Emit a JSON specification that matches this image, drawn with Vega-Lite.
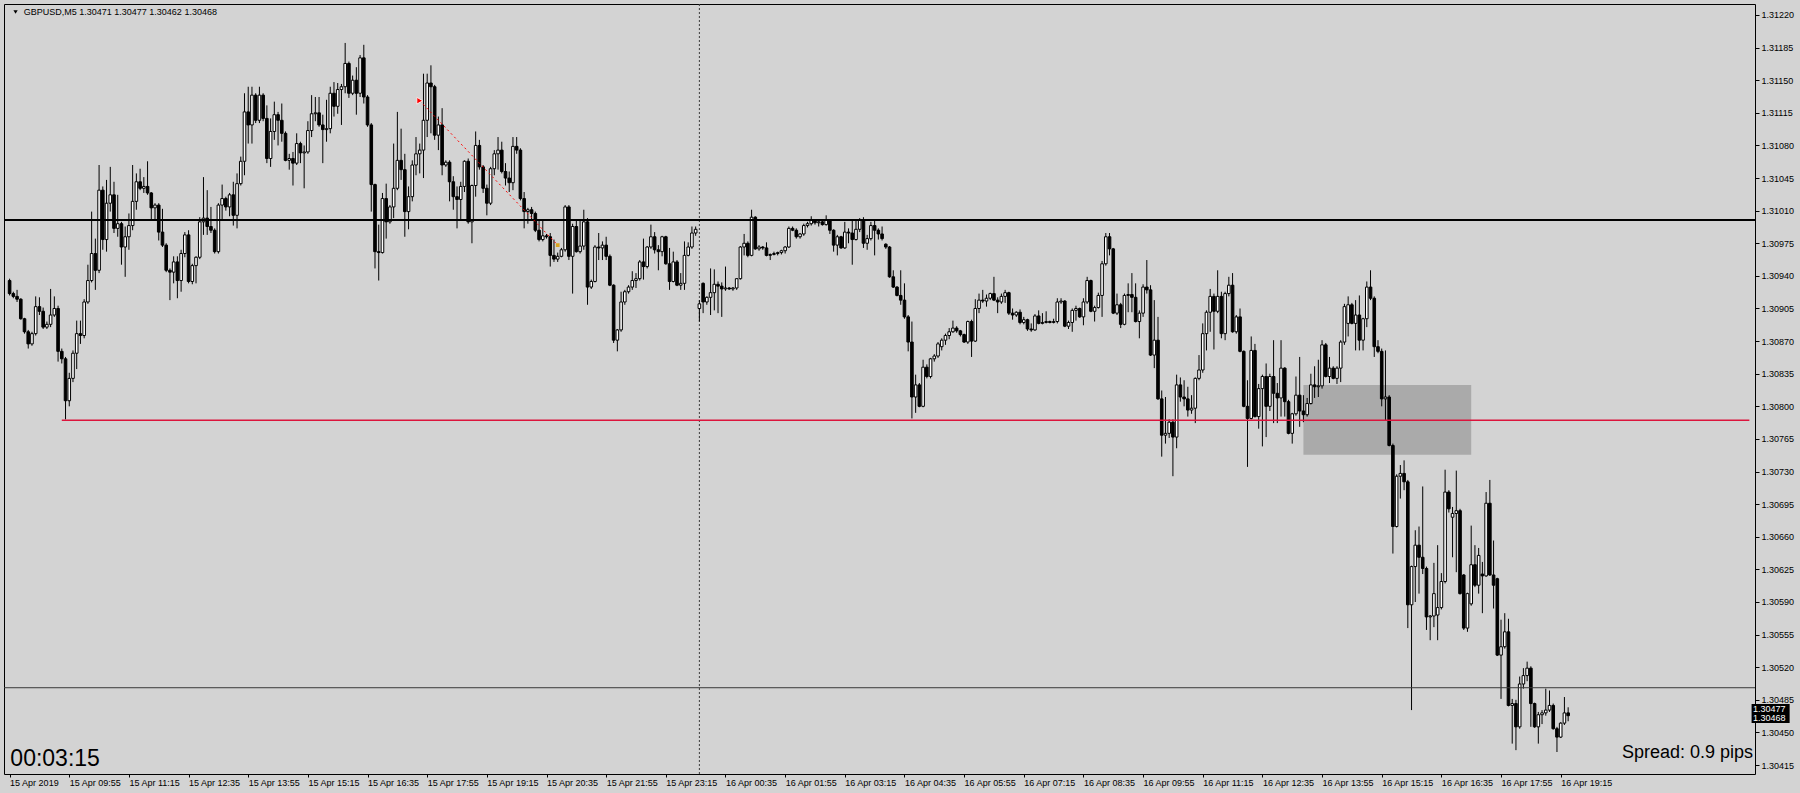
{
"$schema":"https://vega.github.io/schema/vega-lite/v6.json",
"width":1751,"height":770,
"autosize":{"type":"none"},
"padding":{"left":4,"top":4,"right":45,"bottom":19},
"background":"#d3d3d3",
"config":{"view":{"fill":"#d3d3d3","stroke":"#000000","strokeWidth":1},"font":"Liberation Sans"},
"resolve":{"axis":{"x":"independent","y":"independent"}},
"datasets":{"k":[
{"t":"2019-04-15T08:35Z","o":1.30935,"h":1.30937,"l":1.30919,"c":1.30921},
{"t":"2019-04-15T08:40Z","o":1.30921,"h":1.30923,"l":1.30916,"c":1.30918},
{"t":"2019-04-15T08:45Z","o":1.30918,"h":1.30925,"l":1.30912,"c":1.30915},
{"t":"2019-04-15T08:50Z","o":1.30915,"h":1.30916,"l":1.30893,"c":1.30894},
{"t":"2019-04-15T08:55Z","o":1.30894,"h":1.30895,"l":1.30878,"c":1.3088},
{"t":"2019-04-15T09:00Z","o":1.3088,"h":1.30882,"l":1.30862,"c":1.30867},
{"t":"2019-04-15T09:05Z","o":1.30867,"h":1.3088,"l":1.30865,"c":1.30878},
{"t":"2019-04-15T09:10Z","o":1.30878,"h":1.30918,"l":1.30876,"c":1.30907},
{"t":"2019-04-15T09:15Z","o":1.30907,"h":1.30917,"l":1.30898,"c":1.30902},
{"t":"2019-04-15T09:20Z","o":1.30902,"h":1.30906,"l":1.30883,"c":1.30885},
{"t":"2019-04-15T09:25Z","o":1.30885,"h":1.30891,"l":1.30883,"c":1.30888},
{"t":"2019-04-15T09:30Z","o":1.30888,"h":1.30926,"l":1.30885,"c":1.30898},
{"t":"2019-04-15T09:35Z","o":1.30898,"h":1.30918,"l":1.30896,"c":1.30905},
{"t":"2019-04-15T09:40Z","o":1.30905,"h":1.30908,"l":1.30848,"c":1.30859},
{"t":"2019-04-15T09:45Z","o":1.30859,"h":1.30862,"l":1.30846,"c":1.30851},
{"t":"2019-04-15T09:50Z","o":1.30851,"h":1.30853,"l":1.30786,"c":1.30806},
{"t":"2019-04-15T09:55Z","o":1.30806,"h":1.30836,"l":1.308,"c":1.3083},
{"t":"2019-04-15T10:00Z","o":1.3083,"h":1.3086,"l":1.30826,"c":1.30857},
{"t":"2019-04-15T10:05Z","o":1.30857,"h":1.30892,"l":1.3084,"c":1.30878},
{"t":"2019-04-15T10:10Z","o":1.30878,"h":1.30892,"l":1.30867,"c":1.30876},
{"t":"2019-04-15T10:15Z","o":1.30876,"h":1.30915,"l":1.30873,"c":1.30912},
{"t":"2019-04-15T10:20Z","o":1.30912,"h":1.30952,"l":1.3091,"c":1.30935},
{"t":"2019-04-15T10:25Z","o":1.30935,"h":1.31009,"l":1.30933,"c":1.30964},
{"t":"2019-04-15T10:30Z","o":1.30964,"h":1.3098,"l":1.30925,"c":1.30946},
{"t":"2019-04-15T10:35Z","o":1.30946,"h":1.31059,"l":1.30943,"c":1.31032},
{"t":"2019-04-15T10:40Z","o":1.31032,"h":1.31036,"l":1.30968,"c":1.30979},
{"t":"2019-04-15T10:45Z","o":1.30979,"h":1.31043,"l":1.30966,"c":1.31018},
{"t":"2019-04-15T10:50Z","o":1.31018,"h":1.31057,"l":1.31009,"c":1.31027},
{"t":"2019-04-15T10:55Z","o":1.31027,"h":1.31041,"l":1.30986,"c":1.30991},
{"t":"2019-04-15T11:00Z","o":1.30991,"h":1.31027,"l":1.30982,"c":1.30996},
{"t":"2019-04-15T11:05Z","o":1.30996,"h":1.30998,"l":1.30952,"c":1.30971},
{"t":"2019-04-15T11:10Z","o":1.30971,"h":1.30993,"l":1.30939,"c":1.30982},
{"t":"2019-04-15T11:15Z","o":1.30982,"h":1.31007,"l":1.30968,"c":1.30994},
{"t":"2019-04-15T11:20Z","o":1.30994,"h":1.31059,"l":1.30989,"c":1.3102},
{"t":"2019-04-15T11:25Z","o":1.3102,"h":1.3105,"l":1.31011,"c":1.31041},
{"t":"2019-04-15T11:30Z","o":1.31041,"h":1.31055,"l":1.31032,"c":1.31034},
{"t":"2019-04-15T11:35Z","o":1.31034,"h":1.31046,"l":1.31029,"c":1.31036},
{"t":"2019-04-15T11:40Z","o":1.31036,"h":1.31063,"l":1.31027,"c":1.31029},
{"t":"2019-04-15T11:45Z","o":1.31029,"h":1.3103,"l":1.31,"c":1.31013},
{"t":"2019-04-15T11:50Z","o":1.31013,"h":1.31018,"l":1.31,"c":1.31016},
{"t":"2019-04-15T11:55Z","o":1.31016,"h":1.31018,"l":1.30978,"c":1.30987},
{"t":"2019-04-15T12:00Z","o":1.30987,"h":1.31012,"l":1.30971,"c":1.30973},
{"t":"2019-04-15T12:05Z","o":1.30973,"h":1.30975,"l":1.30944,"c":1.30946},
{"t":"2019-04-15T12:10Z","o":1.30946,"h":1.30948,"l":1.30914,"c":1.30944},
{"t":"2019-04-15T12:15Z","o":1.30944,"h":1.30961,"l":1.30932,"c":1.30955},
{"t":"2019-04-15T12:20Z","o":1.30955,"h":1.30961,"l":1.30916,"c":1.30935},
{"t":"2019-04-15T12:25Z","o":1.30935,"h":1.30968,"l":1.30923,"c":1.30964},
{"t":"2019-04-15T12:30Z","o":1.30964,"h":1.30987,"l":1.3096,"c":1.30984},
{"t":"2019-04-15T12:35Z","o":1.30984,"h":1.30989,"l":1.30932,"c":1.30934},
{"t":"2019-04-15T12:40Z","o":1.30934,"h":1.30953,"l":1.30931,"c":1.30951},
{"t":"2019-04-15T12:45Z","o":1.30951,"h":1.30961,"l":1.30932,"c":1.3096},
{"t":"2019-04-15T12:50Z","o":1.3096,"h":1.31003,"l":1.30958,"c":1.30998},
{"t":"2019-04-15T12:55Z","o":1.30998,"h":1.31046,"l":1.30984,"c":1.31002},
{"t":"2019-04-15T13:00Z","o":1.31002,"h":1.31032,"l":1.30984,"c":1.30993},
{"t":"2019-04-15T13:05Z","o":1.30993,"h":1.31014,"l":1.30986,"c":1.30989},
{"t":"2019-04-15T13:10Z","o":1.30989,"h":1.30991,"l":1.30964,"c":1.30966},
{"t":"2019-04-15T13:15Z","o":1.30966,"h":1.31018,"l":1.30964,"c":1.31016},
{"t":"2019-04-15T13:20Z","o":1.31016,"h":1.31038,"l":1.31,"c":1.31023},
{"t":"2019-04-15T13:25Z","o":1.31023,"h":1.31025,"l":1.3101,"c":1.31014},
{"t":"2019-04-15T13:30Z","o":1.31014,"h":1.31029,"l":1.31004,"c":1.31027},
{"t":"2019-04-15T13:35Z","o":1.31027,"h":1.31041,"l":1.30994,"c":1.31005},
{"t":"2019-04-15T13:40Z","o":1.31005,"h":1.3105,"l":1.30991,"c":1.31039},
{"t":"2019-04-15T13:45Z","o":1.31039,"h":1.31068,"l":1.31037,"c":1.31063},
{"t":"2019-04-15T13:50Z","o":1.31063,"h":1.31136,"l":1.31048,"c":1.31116},
{"t":"2019-04-15T13:55Z","o":1.31116,"h":1.31143,"l":1.31082,"c":1.31102},
{"t":"2019-04-15T14:00Z","o":1.31102,"h":1.31143,"l":1.31082,"c":1.31134},
{"t":"2019-04-15T14:05Z","o":1.31134,"h":1.31136,"l":1.31104,"c":1.31107},
{"t":"2019-04-15T14:10Z","o":1.31107,"h":1.31143,"l":1.31104,"c":1.31134},
{"t":"2019-04-15T14:15Z","o":1.31134,"h":1.31136,"l":1.31106,"c":1.31109},
{"t":"2019-04-15T14:20Z","o":1.31109,"h":1.31123,"l":1.31061,"c":1.31066},
{"t":"2019-04-15T14:25Z","o":1.31066,"h":1.31109,"l":1.31057,"c":1.31095},
{"t":"2019-04-15T14:30Z","o":1.31095,"h":1.31127,"l":1.31086,"c":1.31113},
{"t":"2019-04-15T14:35Z","o":1.31113,"h":1.31116,"l":1.3108,"c":1.31107},
{"t":"2019-04-15T14:40Z","o":1.31107,"h":1.31125,"l":1.31084,"c":1.31093},
{"t":"2019-04-15T14:45Z","o":1.31093,"h":1.31095,"l":1.31063,"c":1.31064},
{"t":"2019-04-15T14:50Z","o":1.31064,"h":1.31071,"l":1.31054,"c":1.31066},
{"t":"2019-04-15T14:55Z","o":1.31066,"h":1.31073,"l":1.31037,"c":1.31061},
{"t":"2019-04-15T15:00Z","o":1.31061,"h":1.31093,"l":1.31059,"c":1.31082},
{"t":"2019-04-15T15:05Z","o":1.31082,"h":1.31084,"l":1.31061,"c":1.31072},
{"t":"2019-04-15T15:10Z","o":1.31072,"h":1.3108,"l":1.31034,"c":1.31073},
{"t":"2019-04-15T15:15Z","o":1.31073,"h":1.31106,"l":1.31071,"c":1.31096},
{"t":"2019-04-15T15:20Z","o":1.31096,"h":1.31134,"l":1.31089,"c":1.31114},
{"t":"2019-04-15T15:25Z","o":1.31114,"h":1.31132,"l":1.31106,"c":1.31115},
{"t":"2019-04-15T15:30Z","o":1.31115,"h":1.31132,"l":1.311,"c":1.31102},
{"t":"2019-04-15T15:35Z","o":1.31102,"h":1.31113,"l":1.31061,"c":1.31097},
{"t":"2019-04-15T15:40Z","o":1.31097,"h":1.31129,"l":1.31084,"c":1.31098},
{"t":"2019-04-15T15:45Z","o":1.31098,"h":1.31143,"l":1.31093,"c":1.31136},
{"t":"2019-04-15T15:50Z","o":1.31136,"h":1.31148,"l":1.31111,"c":1.31122},
{"t":"2019-04-15T15:55Z","o":1.31122,"h":1.31147,"l":1.31114,"c":1.3114},
{"t":"2019-04-15T16:00Z","o":1.3114,"h":1.31146,"l":1.31102,"c":1.31143},
{"t":"2019-04-15T16:05Z","o":1.31143,"h":1.3119,"l":1.31136,"c":1.31168},
{"t":"2019-04-15T16:10Z","o":1.31168,"h":1.3117,"l":1.31131,"c":1.31136},
{"t":"2019-04-15T16:15Z","o":1.31136,"h":1.31155,"l":1.31134,"c":1.3115},
{"t":"2019-04-15T16:20Z","o":1.3115,"h":1.31164,"l":1.31113,"c":1.31136},
{"t":"2019-04-15T16:25Z","o":1.31136,"h":1.31177,"l":1.31132,"c":1.31174},
{"t":"2019-04-15T16:30Z","o":1.31174,"h":1.31188,"l":1.31125,"c":1.31132},
{"t":"2019-04-15T16:35Z","o":1.31132,"h":1.31134,"l":1.311,"c":1.31102},
{"t":"2019-04-15T16:40Z","o":1.31102,"h":1.31104,"l":1.31009,"c":1.31038},
{"t":"2019-04-15T16:45Z","o":1.31038,"h":1.31039,"l":1.30948,"c":1.30966},
{"t":"2019-04-15T16:50Z","o":1.30966,"h":1.30995,"l":1.30935,"c":1.30965},
{"t":"2019-04-15T16:55Z","o":1.30965,"h":1.31029,"l":1.30964,"c":1.31023},
{"t":"2019-04-15T17:00Z","o":1.31023,"h":1.31039,"l":1.3098,"c":1.30998},
{"t":"2019-04-15T17:05Z","o":1.30998,"h":1.31016,"l":1.30996,"c":1.31014},
{"t":"2019-04-15T17:10Z","o":1.31014,"h":1.31082,"l":1.31002,"c":1.31034},
{"t":"2019-04-15T17:15Z","o":1.31034,"h":1.31116,"l":1.31032,"c":1.31064},
{"t":"2019-04-15T17:20Z","o":1.31064,"h":1.31098,"l":1.31043,"c":1.31054},
{"t":"2019-04-15T17:25Z","o":1.31054,"h":1.31071,"l":1.30982,"c":1.31009},
{"t":"2019-04-15T17:30Z","o":1.31009,"h":1.31036,"l":1.3099,"c":1.31025},
{"t":"2019-04-15T17:35Z","o":1.31025,"h":1.31064,"l":1.3102,"c":1.31059},
{"t":"2019-04-15T17:40Z","o":1.31059,"h":1.31089,"l":1.31048,"c":1.31071},
{"t":"2019-04-15T17:45Z","o":1.31071,"h":1.31082,"l":1.3105,"c":1.31075},
{"t":"2019-04-15T17:50Z","o":1.31075,"h":1.31157,"l":1.31045,"c":1.31107},
{"t":"2019-04-15T17:55Z","o":1.31107,"h":1.31157,"l":1.31089,"c":1.31147},
{"t":"2019-04-15T18:00Z","o":1.31147,"h":1.31166,"l":1.31093,"c":1.31143},
{"t":"2019-04-15T18:05Z","o":1.31143,"h":1.31145,"l":1.31086,"c":1.31091},
{"t":"2019-04-15T18:10Z","o":1.31091,"h":1.31111,"l":1.31075,"c":1.31102},
{"t":"2019-04-15T18:15Z","o":1.31102,"h":1.3112,"l":1.31048,"c":1.31059},
{"t":"2019-04-15T18:20Z","o":1.31059,"h":1.31064,"l":1.31057,"c":1.31062},
{"t":"2019-04-15T18:25Z","o":1.31062,"h":1.31064,"l":1.3102,"c":1.31041},
{"t":"2019-04-15T18:30Z","o":1.31041,"h":1.31047,"l":1.31011,"c":1.31025},
{"t":"2019-04-15T18:35Z","o":1.31025,"h":1.31036,"l":1.30991,"c":1.31022},
{"t":"2019-04-15T18:40Z","o":1.31022,"h":1.31041,"l":1.31,"c":1.31036},
{"t":"2019-04-15T18:45Z","o":1.31036,"h":1.31064,"l":1.3103,"c":1.31063},
{"t":"2019-04-15T18:50Z","o":1.31063,"h":1.31066,"l":1.30996,"c":1.30998},
{"t":"2019-04-15T18:55Z","o":1.30998,"h":1.31038,"l":1.30975,"c":1.31037},
{"t":"2019-04-15T19:00Z","o":1.31037,"h":1.31095,"l":1.31025,"c":1.3108},
{"t":"2019-04-15T19:05Z","o":1.3108,"h":1.31086,"l":1.31054,"c":1.31057},
{"t":"2019-04-15T19:10Z","o":1.31057,"h":1.31059,"l":1.31029,"c":1.31034},
{"t":"2019-04-15T19:15Z","o":1.31034,"h":1.31038,"l":1.31005,"c":1.31018},
{"t":"2019-04-15T19:20Z","o":1.31018,"h":1.31057,"l":1.31016,"c":1.31055},
{"t":"2019-04-15T19:25Z","o":1.31055,"h":1.31075,"l":1.31048,"c":1.31071},
{"t":"2019-04-15T19:30Z","o":1.31071,"h":1.31089,"l":1.31054,"c":1.31075},
{"t":"2019-04-15T19:35Z","o":1.31075,"h":1.31084,"l":1.3105,"c":1.31052},
{"t":"2019-04-15T19:40Z","o":1.31052,"h":1.31061,"l":1.31037,"c":1.31045},
{"t":"2019-04-15T19:45Z","o":1.31045,"h":1.31052,"l":1.3103,"c":1.3104},
{"t":"2019-04-15T19:50Z","o":1.3104,"h":1.31089,"l":1.31032,"c":1.31079},
{"t":"2019-04-15T19:55Z","o":1.31079,"h":1.31089,"l":1.31071,"c":1.31075},
{"t":"2019-04-15T20:00Z","o":1.31075,"h":1.31077,"l":1.31021,"c":1.31023},
{"t":"2019-04-15T20:05Z","o":1.31023,"h":1.3103,"l":1.30991,"c":1.31009},
{"t":"2019-04-15T20:10Z","o":1.31009,"h":1.31013,"l":1.30996,"c":1.31011},
{"t":"2019-04-15T20:15Z","o":1.31011,"h":1.31014,"l":1.31,"c":1.31007},
{"t":"2019-04-15T20:20Z","o":1.31007,"h":1.31009,"l":1.30987,"c":1.30989},
{"t":"2019-04-15T20:25Z","o":1.30989,"h":1.31,"l":1.30977,"c":1.30979},
{"t":"2019-04-15T20:30Z","o":1.30979,"h":1.31,"l":1.30977,"c":1.30983},
{"t":"2019-04-15T20:35Z","o":1.30983,"h":1.30985,"l":1.3098,"c":1.30982},
{"t":"2019-04-15T20:40Z","o":1.30982,"h":1.30986,"l":1.3095,"c":1.30962},
{"t":"2019-04-15T20:45Z","o":1.30962,"h":1.30979,"l":1.30955,"c":1.30958},
{"t":"2019-04-15T20:50Z","o":1.30958,"h":1.30965,"l":1.30955,"c":1.30961},
{"t":"2019-04-15T20:55Z","o":1.30961,"h":1.3097,"l":1.3096,"c":1.30968},
{"t":"2019-04-15T21:00Z","o":1.30968,"h":1.31016,"l":1.30966,"c":1.31014},
{"t":"2019-04-15T21:05Z","o":1.31014,"h":1.31016,"l":1.30957,"c":1.30961},
{"t":"2019-04-15T21:10Z","o":1.30961,"h":1.30996,"l":1.30921,"c":1.30993},
{"t":"2019-04-15T21:15Z","o":1.30993,"h":1.31,"l":1.30965,"c":1.30966},
{"t":"2019-04-15T21:20Z","o":1.30966,"h":1.31,"l":1.30964,"c":1.30972},
{"t":"2019-04-15T21:25Z","o":1.30972,"h":1.31011,"l":1.30968,"c":1.30998},
{"t":"2019-04-15T21:30Z","o":1.30998,"h":1.31002,"l":1.30909,"c":1.30928},
{"t":"2019-04-15T21:35Z","o":1.30928,"h":1.30936,"l":1.30926,"c":1.30934},
{"t":"2019-04-15T21:40Z","o":1.30934,"h":1.30973,"l":1.30933,"c":1.30971},
{"t":"2019-04-15T21:45Z","o":1.30971,"h":1.30986,"l":1.30957,"c":1.3097},
{"t":"2019-04-15T21:50Z","o":1.3097,"h":1.30977,"l":1.30957,"c":1.30973},
{"t":"2019-04-15T21:55Z","o":1.30973,"h":1.30982,"l":1.30957,"c":1.30961},
{"t":"2019-04-15T22:00Z","o":1.30961,"h":1.30963,"l":1.30929,"c":1.3093},
{"t":"2019-04-15T22:05Z","o":1.3093,"h":1.30931,"l":1.30868,"c":1.30871},
{"t":"2019-04-15T22:10Z","o":1.30871,"h":1.30883,"l":1.30859,"c":1.30882},
{"t":"2019-04-15T22:15Z","o":1.30882,"h":1.30923,"l":1.3088,"c":1.30912},
{"t":"2019-04-15T22:20Z","o":1.30912,"h":1.30925,"l":1.30909,"c":1.30923},
{"t":"2019-04-15T22:25Z","o":1.30923,"h":1.3093,"l":1.30921,"c":1.30928},
{"t":"2019-04-15T22:30Z","o":1.30928,"h":1.30945,"l":1.30925,"c":1.30935},
{"t":"2019-04-15T22:35Z","o":1.30935,"h":1.30943,"l":1.30927,"c":1.30937},
{"t":"2019-04-15T22:40Z","o":1.30937,"h":1.30957,"l":1.30935,"c":1.30955},
{"t":"2019-04-15T22:45Z","o":1.30955,"h":1.3098,"l":1.30936,"c":1.3095},
{"t":"2019-04-15T22:50Z","o":1.3095,"h":1.30972,"l":1.30948,"c":1.30971},
{"t":"2019-04-15T22:55Z","o":1.30971,"h":1.30995,"l":1.30969,"c":1.30982},
{"t":"2019-04-15T23:00Z","o":1.30982,"h":1.30987,"l":1.30964,"c":1.30968},
{"t":"2019-04-15T23:05Z","o":1.30968,"h":1.30973,"l":1.30946,"c":1.30966},
{"t":"2019-04-15T23:10Z","o":1.30966,"h":1.30983,"l":1.30961,"c":1.30982},
{"t":"2019-04-15T23:15Z","o":1.30982,"h":1.30983,"l":1.30952,"c":1.30953},
{"t":"2019-04-15T23:20Z","o":1.30953,"h":1.3097,"l":1.30925,"c":1.30934},
{"t":"2019-04-15T23:25Z","o":1.30934,"h":1.30966,"l":1.30933,"c":1.30955},
{"t":"2019-04-15T23:30Z","o":1.30955,"h":1.30957,"l":1.30929,"c":1.3093},
{"t":"2019-04-15T23:35Z","o":1.3093,"h":1.30943,"l":1.30925,"c":1.30932},
{"t":"2019-04-15T23:40Z","o":1.30932,"h":1.30977,"l":1.30925,"c":1.30962},
{"t":"2019-04-15T23:45Z","o":1.30962,"h":1.30976,"l":1.30961,"c":1.30971},
{"t":"2019-04-15T23:50Z","o":1.30971,"h":1.30993,"l":1.30969,"c":1.30986},
{"t":"2019-04-15T23:55Z","o":1.30986,"h":1.30993,"l":1.30983,"c":1.3099},
{"t":"2019-04-16T00:00Z","o":1.30905,"h":1.30914,"l":1.30891,"c":1.3091},
{"t":"2019-04-16T00:05Z","o":1.30932,"h":1.30933,"l":1.309,"c":1.30912},
{"t":"2019-04-16T00:10Z","o":1.30912,"h":1.30918,"l":1.30909,"c":1.30917},
{"t":"2019-04-16T00:15Z","o":1.30917,"h":1.30948,"l":1.30898,"c":1.30922},
{"t":"2019-04-16T00:20Z","o":1.30922,"h":1.30947,"l":1.30903,"c":1.30931},
{"t":"2019-04-16T00:25Z","o":1.30931,"h":1.30934,"l":1.309,"c":1.30929},
{"t":"2019-04-16T00:30Z","o":1.30929,"h":1.30933,"l":1.30896,"c":1.30926},
{"t":"2019-04-16T00:35Z","o":1.30926,"h":1.3095,"l":1.30924,"c":1.30927},
{"t":"2019-04-16T00:40Z","o":1.30927,"h":1.30928,"l":1.30925,"c":1.30926},
{"t":"2019-04-16T00:45Z","o":1.30926,"h":1.30928,"l":1.30924,"c":1.30927},
{"t":"2019-04-16T00:50Z","o":1.30927,"h":1.30937,"l":1.30925,"c":1.30937},
{"t":"2019-04-16T00:55Z","o":1.30937,"h":1.30972,"l":1.30936,"c":1.30971},
{"t":"2019-04-16T01:00Z","o":1.30971,"h":1.30985,"l":1.30962,"c":1.30975},
{"t":"2019-04-16T01:05Z","o":1.30975,"h":1.30977,"l":1.3096,"c":1.30962},
{"t":"2019-04-16T01:10Z","o":1.30962,"h":1.31011,"l":1.30961,"c":1.31003},
{"t":"2019-04-16T01:15Z","o":1.31003,"h":1.31004,"l":1.30968,"c":1.30969},
{"t":"2019-04-16T01:20Z","o":1.30969,"h":1.30973,"l":1.30967,"c":1.30971},
{"t":"2019-04-16T01:25Z","o":1.30971,"h":1.30972,"l":1.30968,"c":1.3097},
{"t":"2019-04-16T01:30Z","o":1.3097,"h":1.30976,"l":1.30961,"c":1.30962},
{"t":"2019-04-16T01:35Z","o":1.30962,"h":1.30964,"l":1.30957,"c":1.30963},
{"t":"2019-04-16T01:40Z","o":1.30963,"h":1.30966,"l":1.30962,"c":1.30964},
{"t":"2019-04-16T01:45Z","o":1.30964,"h":1.30966,"l":1.30962,"c":1.30965},
{"t":"2019-04-16T01:50Z","o":1.30965,"h":1.30968,"l":1.30963,"c":1.30967},
{"t":"2019-04-16T01:55Z","o":1.30967,"h":1.30972,"l":1.30964,"c":1.30971},
{"t":"2019-04-16T02:00Z","o":1.30971,"h":1.30993,"l":1.3097,"c":1.30991},
{"t":"2019-04-16T02:05Z","o":1.30991,"h":1.30993,"l":1.30988,"c":1.30989},
{"t":"2019-04-16T02:10Z","o":1.30989,"h":1.30991,"l":1.3098,"c":1.30982},
{"t":"2019-04-16T02:15Z","o":1.30982,"h":1.30986,"l":1.3098,"c":1.30985},
{"t":"2019-04-16T02:20Z","o":1.30985,"h":1.30996,"l":1.30983,"c":1.30994},
{"t":"2019-04-16T02:25Z","o":1.30994,"h":1.30998,"l":1.30992,"c":1.30996},
{"t":"2019-04-16T02:30Z","o":1.30996,"h":1.31004,"l":1.30994,"c":1.31},
{"t":"2019-04-16T02:35Z","o":1.31,"h":1.31001,"l":1.30995,"c":1.30997},
{"t":"2019-04-16T02:40Z","o":1.30997,"h":1.31,"l":1.30993,"c":1.30998},
{"t":"2019-04-16T02:45Z","o":1.30998,"h":1.30999,"l":1.30994,"c":1.30995},
{"t":"2019-04-16T02:50Z","o":1.30995,"h":1.31005,"l":1.30994,"c":1.31},
{"t":"2019-04-16T02:55Z","o":1.31,"h":1.31001,"l":1.30985,"c":1.30989},
{"t":"2019-04-16T03:00Z","o":1.30989,"h":1.3099,"l":1.30966,"c":1.30973},
{"t":"2019-04-16T03:05Z","o":1.30973,"h":1.30984,"l":1.30962,"c":1.30982},
{"t":"2019-04-16T03:10Z","o":1.30982,"h":1.30983,"l":1.30969,"c":1.3097},
{"t":"2019-04-16T03:15Z","o":1.3097,"h":1.30998,"l":1.30969,"c":1.30987},
{"t":"2019-04-16T03:20Z","o":1.30987,"h":1.30991,"l":1.30975,"c":1.30986},
{"t":"2019-04-16T03:25Z","o":1.30986,"h":1.31,"l":1.30952,"c":1.30979},
{"t":"2019-04-16T03:30Z","o":1.30979,"h":1.31,"l":1.30978,"c":1.3099},
{"t":"2019-04-16T03:35Z","o":1.3099,"h":1.31002,"l":1.30987,"c":1.31},
{"t":"2019-04-16T03:40Z","o":1.31,"h":1.31003,"l":1.3097,"c":1.30975},
{"t":"2019-04-16T03:45Z","o":1.30975,"h":1.30984,"l":1.30968,"c":1.3098},
{"t":"2019-04-16T03:50Z","o":1.3098,"h":1.30998,"l":1.30978,"c":1.30994},
{"t":"2019-04-16T03:55Z","o":1.30994,"h":1.31001,"l":1.30962,"c":1.30989},
{"t":"2019-04-16T04:00Z","o":1.30989,"h":1.30991,"l":1.30979,"c":1.30985},
{"t":"2019-04-16T04:05Z","o":1.30985,"h":1.30993,"l":1.30978,"c":1.3098},
{"t":"2019-04-16T04:10Z","o":1.30974,"h":1.30975,"l":1.30969,"c":1.30971},
{"t":"2019-04-16T04:15Z","o":1.30971,"h":1.30972,"l":1.30938,"c":1.30939},
{"t":"2019-04-16T04:20Z","o":1.30939,"h":1.30946,"l":1.30927,"c":1.30928},
{"t":"2019-04-16T04:25Z","o":1.30928,"h":1.30929,"l":1.30918,"c":1.30919},
{"t":"2019-04-16T04:30Z","o":1.30919,"h":1.30946,"l":1.30909,"c":1.30914},
{"t":"2019-04-16T04:35Z","o":1.30914,"h":1.30932,"l":1.30894,"c":1.30896},
{"t":"2019-04-16T04:40Z","o":1.30896,"h":1.30898,"l":1.30859,"c":1.30869},
{"t":"2019-04-16T04:45Z","o":1.30869,"h":1.30891,"l":1.30787,"c":1.3081},
{"t":"2019-04-16T04:50Z","o":1.3081,"h":1.30834,"l":1.30793,"c":1.30823},
{"t":"2019-04-16T04:55Z","o":1.30823,"h":1.30825,"l":1.30799,"c":1.308},
{"t":"2019-04-16T05:00Z","o":1.308,"h":1.3085,"l":1.30799,"c":1.30842},
{"t":"2019-04-16T05:05Z","o":1.30842,"h":1.30845,"l":1.3083,"c":1.30832},
{"t":"2019-04-16T05:10Z","o":1.30832,"h":1.30852,"l":1.3083,"c":1.30851},
{"t":"2019-04-16T05:15Z","o":1.30851,"h":1.30856,"l":1.30848,"c":1.30854},
{"t":"2019-04-16T05:20Z","o":1.30854,"h":1.30869,"l":1.30852,"c":1.30867},
{"t":"2019-04-16T05:25Z","o":1.30864,"h":1.30873,"l":1.3086,"c":1.30871},
{"t":"2019-04-16T05:30Z","o":1.30871,"h":1.30878,"l":1.30866,"c":1.30876},
{"t":"2019-04-16T05:35Z","o":1.30876,"h":1.30884,"l":1.30872,"c":1.3088},
{"t":"2019-04-16T05:40Z","o":1.3088,"h":1.30892,"l":1.30879,"c":1.30884},
{"t":"2019-04-16T05:45Z","o":1.30884,"h":1.30886,"l":1.30879,"c":1.30881},
{"t":"2019-04-16T05:50Z","o":1.30881,"h":1.30882,"l":1.30875,"c":1.30877},
{"t":"2019-04-16T05:55Z","o":1.30877,"h":1.30878,"l":1.30868,"c":1.30869},
{"t":"2019-04-16T06:00Z","o":1.30869,"h":1.30892,"l":1.30867,"c":1.30891},
{"t":"2019-04-16T06:05Z","o":1.30891,"h":1.30893,"l":1.30853,"c":1.3087},
{"t":"2019-04-16T06:10Z","o":1.3087,"h":1.30915,"l":1.30869,"c":1.30905},
{"t":"2019-04-16T06:15Z","o":1.30905,"h":1.30921,"l":1.309,"c":1.30914},
{"t":"2019-04-16T06:20Z","o":1.30914,"h":1.30925,"l":1.30911,"c":1.30913},
{"t":"2019-04-16T06:25Z","o":1.30913,"h":1.3092,"l":1.30907,"c":1.30916},
{"t":"2019-04-16T06:30Z","o":1.30916,"h":1.30922,"l":1.30914,"c":1.30921},
{"t":"2019-04-16T06:35Z","o":1.30921,"h":1.30939,"l":1.30913,"c":1.30914},
{"t":"2019-04-16T06:40Z","o":1.30914,"h":1.30917,"l":1.309,"c":1.30912},
{"t":"2019-04-16T06:45Z","o":1.30912,"h":1.30921,"l":1.3091,"c":1.30918},
{"t":"2019-04-16T06:50Z","o":1.30918,"h":1.30925,"l":1.30911,"c":1.30922},
{"t":"2019-04-16T06:55Z","o":1.30922,"h":1.30923,"l":1.30898,"c":1.309},
{"t":"2019-04-16T07:00Z","o":1.309,"h":1.30905,"l":1.30893,"c":1.30898},
{"t":"2019-04-16T07:05Z","o":1.30898,"h":1.30902,"l":1.30896,"c":1.30901},
{"t":"2019-04-16T07:10Z","o":1.30901,"h":1.30904,"l":1.30888,"c":1.3089},
{"t":"2019-04-16T07:15Z","o":1.3089,"h":1.30896,"l":1.30888,"c":1.30893},
{"t":"2019-04-16T07:20Z","o":1.30893,"h":1.30894,"l":1.30881,"c":1.30883},
{"t":"2019-04-16T07:25Z","o":1.30883,"h":1.30889,"l":1.3088,"c":1.30882},
{"t":"2019-04-16T07:30Z","o":1.30882,"h":1.30899,"l":1.30881,"c":1.30897},
{"t":"2019-04-16T07:35Z","o":1.30897,"h":1.30903,"l":1.30888,"c":1.30889},
{"t":"2019-04-16T07:40Z","o":1.30889,"h":1.309,"l":1.30888,"c":1.3089},
{"t":"2019-04-16T07:45Z","o":1.3089,"h":1.30902,"l":1.30889,"c":1.30891},
{"t":"2019-04-16T07:50Z","o":1.30891,"h":1.30892,"l":1.30889,"c":1.3089},
{"t":"2019-04-16T07:55Z","o":1.3089,"h":1.30894,"l":1.30889,"c":1.30891},
{"t":"2019-04-16T08:00Z","o":1.30891,"h":1.30916,"l":1.30889,"c":1.30912},
{"t":"2019-04-16T08:05Z","o":1.30912,"h":1.30916,"l":1.3091,"c":1.30913},
{"t":"2019-04-16T08:10Z","o":1.30913,"h":1.30914,"l":1.30885,"c":1.30886},
{"t":"2019-04-16T08:15Z","o":1.30886,"h":1.30892,"l":1.30883,"c":1.3089},
{"t":"2019-04-16T08:20Z","o":1.3089,"h":1.30905,"l":1.3088,"c":1.30903},
{"t":"2019-04-16T08:25Z","o":1.30903,"h":1.30908,"l":1.30892,"c":1.30905},
{"t":"2019-04-16T08:30Z","o":1.30905,"h":1.30906,"l":1.30895,"c":1.30896},
{"t":"2019-04-16T08:35Z","o":1.30896,"h":1.30916,"l":1.30887,"c":1.30912},
{"t":"2019-04-16T08:40Z","o":1.30912,"h":1.30939,"l":1.3091,"c":1.30935},
{"t":"2019-04-16T08:45Z","o":1.30935,"h":1.30936,"l":1.30901,"c":1.30902},
{"t":"2019-04-16T08:50Z","o":1.30902,"h":1.30908,"l":1.30891,"c":1.30906},
{"t":"2019-04-16T08:55Z","o":1.30906,"h":1.30922,"l":1.30905,"c":1.30919},
{"t":"2019-04-16T09:00Z","o":1.30919,"h":1.30956,"l":1.30896,"c":1.30953},
{"t":"2019-04-16T09:05Z","o":1.30953,"h":1.30986,"l":1.30951,"c":1.30982},
{"t":"2019-04-16T09:10Z","o":1.30982,"h":1.30986,"l":1.30962,"c":1.30969},
{"t":"2019-04-16T09:15Z","o":1.30969,"h":1.3097,"l":1.30899,"c":1.309},
{"t":"2019-04-16T09:20Z","o":1.309,"h":1.30921,"l":1.30898,"c":1.30909},
{"t":"2019-04-16T09:25Z","o":1.30909,"h":1.30911,"l":1.30884,"c":1.30888},
{"t":"2019-04-16T09:30Z","o":1.30888,"h":1.30921,"l":1.30887,"c":1.30919},
{"t":"2019-04-16T09:35Z","o":1.30919,"h":1.30932,"l":1.30901,"c":1.3092},
{"t":"2019-04-16T09:40Z","o":1.3092,"h":1.30943,"l":1.30901,"c":1.30917},
{"t":"2019-04-16T09:45Z","o":1.30917,"h":1.30932,"l":1.3089,"c":1.30891},
{"t":"2019-04-16T09:50Z","o":1.30891,"h":1.30903,"l":1.30873,"c":1.309},
{"t":"2019-04-16T09:55Z","o":1.309,"h":1.30931,"l":1.30896,"c":1.30928},
{"t":"2019-04-16T10:00Z","o":1.30928,"h":1.30957,"l":1.30921,"c":1.30925},
{"t":"2019-04-16T10:05Z","o":1.30925,"h":1.3093,"l":1.30854,"c":1.30855},
{"t":"2019-04-16T10:10Z","o":1.30855,"h":1.30914,"l":1.30841,"c":1.30871},
{"t":"2019-04-16T10:15Z","o":1.30871,"h":1.30896,"l":1.30807,"c":1.30808},
{"t":"2019-04-16T10:20Z","o":1.30808,"h":1.30817,"l":1.30746,"c":1.30769},
{"t":"2019-04-16T10:25Z","o":1.30769,"h":1.3081,"l":1.3076,"c":1.30771},
{"t":"2019-04-16T10:30Z","o":1.30771,"h":1.30786,"l":1.30766,"c":1.30783},
{"t":"2019-04-16T10:35Z","o":1.30783,"h":1.30786,"l":1.30725,"c":1.30767},
{"t":"2019-04-16T10:40Z","o":1.30767,"h":1.30834,"l":1.30755,"c":1.30823},
{"t":"2019-04-16T10:45Z","o":1.30823,"h":1.30831,"l":1.30805,"c":1.3081},
{"t":"2019-04-16T10:50Z","o":1.3081,"h":1.30828,"l":1.308,"c":1.30808},
{"t":"2019-04-16T10:55Z","o":1.30808,"h":1.30821,"l":1.30789,"c":1.30796},
{"t":"2019-04-16T11:00Z","o":1.30796,"h":1.30812,"l":1.30792,"c":1.30798},
{"t":"2019-04-16T11:05Z","o":1.30798,"h":1.30831,"l":1.30782,"c":1.3083},
{"t":"2019-04-16T11:10Z","o":1.3083,"h":1.30855,"l":1.30828,"c":1.30839},
{"t":"2019-04-16T11:15Z","o":1.30839,"h":1.30889,"l":1.30836,"c":1.30878},
{"t":"2019-04-16T11:20Z","o":1.30878,"h":1.30903,"l":1.3086,"c":1.30901},
{"t":"2019-04-16T11:25Z","o":1.30901,"h":1.30926,"l":1.3088,"c":1.30918},
{"t":"2019-04-16T11:30Z","o":1.30918,"h":1.30921,"l":1.30861,"c":1.30902},
{"t":"2019-04-16T11:35Z","o":1.30902,"h":1.30946,"l":1.309,"c":1.30918},
{"t":"2019-04-16T11:40Z","o":1.30918,"h":1.30923,"l":1.30873,"c":1.30878},
{"t":"2019-04-16T11:45Z","o":1.30878,"h":1.30923,"l":1.30871,"c":1.30921},
{"t":"2019-04-16T11:50Z","o":1.30921,"h":1.30939,"l":1.30918,"c":1.3093},
{"t":"2019-04-16T11:55Z","o":1.3093,"h":1.30943,"l":1.30879,"c":1.3088},
{"t":"2019-04-16T12:00Z","o":1.3088,"h":1.30898,"l":1.30878,"c":1.30896},
{"t":"2019-04-16T12:05Z","o":1.30896,"h":1.30905,"l":1.30858,"c":1.30859},
{"t":"2019-04-16T12:10Z","o":1.30859,"h":1.3086,"l":1.30799,"c":1.308},
{"t":"2019-04-16T12:15Z","o":1.308,"h":1.30828,"l":1.30735,"c":1.30787},
{"t":"2019-04-16T12:20Z","o":1.30787,"h":1.30875,"l":1.30786,"c":1.3086},
{"t":"2019-04-16T12:25Z","o":1.3086,"h":1.30867,"l":1.30788,"c":1.30789},
{"t":"2019-04-16T12:30Z","o":1.30789,"h":1.30824,"l":1.30776,"c":1.30819},
{"t":"2019-04-16T12:35Z","o":1.30819,"h":1.30834,"l":1.30757,"c":1.30832},
{"t":"2019-04-16T12:40Z","o":1.30832,"h":1.30846,"l":1.30767,"c":1.308},
{"t":"2019-04-16T12:45Z","o":1.308,"h":1.30835,"l":1.30795,"c":1.30832},
{"t":"2019-04-16T12:50Z","o":1.30832,"h":1.30871,"l":1.30782,"c":1.30814},
{"t":"2019-04-16T12:55Z","o":1.30814,"h":1.30825,"l":1.30782,"c":1.30809},
{"t":"2019-04-16T13:00Z","o":1.30809,"h":1.30871,"l":1.30789,"c":1.30841},
{"t":"2019-04-16T13:05Z","o":1.30841,"h":1.30842,"l":1.30789,"c":1.30805},
{"t":"2019-04-16T13:10Z","o":1.30805,"h":1.30807,"l":1.3077,"c":1.30771},
{"t":"2019-04-16T13:15Z","o":1.30771,"h":1.30793,"l":1.3076,"c":1.30792},
{"t":"2019-04-16T13:20Z","o":1.30792,"h":1.30832,"l":1.3079,"c":1.30812},
{"t":"2019-04-16T13:25Z","o":1.30812,"h":1.30853,"l":1.30778,"c":1.30795},
{"t":"2019-04-16T13:30Z","o":1.30795,"h":1.30812,"l":1.30783,"c":1.30791},
{"t":"2019-04-16T13:35Z","o":1.30791,"h":1.30809,"l":1.30789,"c":1.30803},
{"t":"2019-04-16T13:40Z","o":1.30803,"h":1.30835,"l":1.30802,"c":1.30823},
{"t":"2019-04-16T13:45Z","o":1.30823,"h":1.30843,"l":1.30809,"c":1.30821},
{"t":"2019-04-16T13:50Z","o":1.30821,"h":1.3085,"l":1.3081,"c":1.30822},
{"t":"2019-04-16T13:55Z","o":1.30822,"h":1.30871,"l":1.30819,"c":1.30866},
{"t":"2019-04-16T14:00Z","o":1.30866,"h":1.30868,"l":1.30831,"c":1.30832},
{"t":"2019-04-16T14:05Z","o":1.30832,"h":1.30853,"l":1.30825,"c":1.30841},
{"t":"2019-04-16T14:10Z","o":1.30841,"h":1.30843,"l":1.30829,"c":1.3083},
{"t":"2019-04-16T14:15Z","o":1.3083,"h":1.30843,"l":1.30824,"c":1.30841},
{"t":"2019-04-16T14:20Z","o":1.30841,"h":1.30871,"l":1.30826,"c":1.30869},
{"t":"2019-04-16T14:25Z","o":1.30869,"h":1.3091,"l":1.30866,"c":1.30907},
{"t":"2019-04-16T14:30Z","o":1.30889,"h":1.30918,"l":1.30875,"c":1.30909},
{"t":"2019-04-16T14:35Z","o":1.30909,"h":1.30911,"l":1.30888,"c":1.30889},
{"t":"2019-04-16T14:40Z","o":1.30889,"h":1.30914,"l":1.3086,"c":1.30898},
{"t":"2019-04-16T14:45Z","o":1.30898,"h":1.30919,"l":1.3086,"c":1.30871},
{"t":"2019-04-16T14:50Z","o":1.30871,"h":1.30895,"l":1.3086,"c":1.30894},
{"t":"2019-04-16T14:55Z","o":1.30894,"h":1.30934,"l":1.30885,"c":1.30928},
{"t":"2019-04-16T15:00Z","o":1.30928,"h":1.30946,"l":1.30914,"c":1.30916},
{"t":"2019-04-16T15:05Z","o":1.30916,"h":1.30918,"l":1.30853,"c":1.30864},
{"t":"2019-04-16T15:10Z","o":1.30864,"h":1.30871,"l":1.30857,"c":1.30859},
{"t":"2019-04-16T15:15Z","o":1.30859,"h":1.30862,"l":1.308,"c":1.30808},
{"t":"2019-04-16T15:20Z","o":1.30808,"h":1.3086,"l":1.30785,"c":1.3081},
{"t":"2019-04-16T15:25Z","o":1.3081,"h":1.30812,"l":1.30757,"c":1.30758},
{"t":"2019-04-16T15:30Z","o":1.30758,"h":1.3076,"l":1.30642,"c":1.30671},
{"t":"2019-04-16T15:35Z","o":1.30671,"h":1.30727,"l":1.3067,"c":1.30725},
{"t":"2019-04-16T15:40Z","o":1.30725,"h":1.30737,"l":1.30701,"c":1.30728},
{"t":"2019-04-16T15:45Z","o":1.30728,"h":1.30742,"l":1.3071,"c":1.30719},
{"t":"2019-04-16T15:50Z","o":1.30719,"h":1.30721,"l":1.30562,"c":1.30587},
{"t":"2019-04-16T15:55Z","o":1.30587,"h":1.30629,"l":1.30474,"c":1.30628},
{"t":"2019-04-16T16:00Z","o":1.30628,"h":1.30667,"l":1.3059,"c":1.30651},
{"t":"2019-04-16T16:05Z","o":1.30651,"h":1.30671,"l":1.30599,"c":1.30638},
{"t":"2019-04-16T16:10Z","o":1.30638,"h":1.30714,"l":1.3062,"c":1.30626},
{"t":"2019-04-16T16:15Z","o":1.30626,"h":1.30628,"l":1.3056,"c":1.30574},
{"t":"2019-04-16T16:20Z","o":1.30574,"h":1.30576,"l":1.30549,"c":1.30575},
{"t":"2019-04-16T16:25Z","o":1.30575,"h":1.30632,"l":1.30563,"c":1.30599},
{"t":"2019-04-16T16:30Z","o":1.30576,"h":1.30651,"l":1.30549,"c":1.30584},
{"t":"2019-04-16T16:35Z","o":1.30584,"h":1.30621,"l":1.30582,"c":1.30612},
{"t":"2019-04-16T16:40Z","o":1.30612,"h":1.30732,"l":1.3061,"c":1.30708},
{"t":"2019-04-16T16:45Z","o":1.30708,"h":1.3071,"l":1.30686,"c":1.3069},
{"t":"2019-04-16T16:50Z","o":1.30681,"h":1.30692,"l":1.30638,"c":1.30685},
{"t":"2019-04-16T16:55Z","o":1.30685,"h":1.30731,"l":1.30622,"c":1.30688},
{"t":"2019-04-16T17:00Z","o":1.30688,"h":1.3069,"l":1.30598,"c":1.30599},
{"t":"2019-04-16T17:05Z","o":1.30619,"h":1.3062,"l":1.3056,"c":1.30562},
{"t":"2019-04-16T17:10Z","o":1.30562,"h":1.306,"l":1.30558,"c":1.30599},
{"t":"2019-04-16T17:15Z","o":1.30588,"h":1.30672,"l":1.30586,"c":1.3063},
{"t":"2019-04-16T17:20Z","o":1.3063,"h":1.30651,"l":1.30606,"c":1.30608},
{"t":"2019-04-16T17:25Z","o":1.30608,"h":1.30648,"l":1.30599,"c":1.3064},
{"t":"2019-04-16T17:30Z","o":1.3062,"h":1.30633,"l":1.30578,"c":1.30618},
{"t":"2019-04-16T17:35Z","o":1.30618,"h":1.30708,"l":1.30617,"c":1.30696},
{"t":"2019-04-16T17:40Z","o":1.30696,"h":1.30721,"l":1.30618,"c":1.30619},
{"t":"2019-04-16T17:45Z","o":1.30619,"h":1.30656,"l":1.30583,"c":1.30608},
{"t":"2019-04-16T17:50Z","o":1.30615,"h":1.30616,"l":1.30532,"c":1.30533},
{"t":"2019-04-16T17:55Z","o":1.30533,"h":1.30571,"l":1.30486,"c":1.30542},
{"t":"2019-04-16T18:00Z","o":1.30542,"h":1.30578,"l":1.3054,"c":1.30558},
{"t":"2019-04-16T18:05Z","o":1.30558,"h":1.30572,"l":1.30478,"c":1.30479},
{"t":"2019-04-16T18:10Z","o":1.30479,"h":1.30486,"l":1.30438,"c":1.30481},
{"t":"2019-04-16T18:15Z","o":1.30481,"h":1.30485,"l":1.30431,"c":1.30456},
{"t":"2019-04-16T18:20Z","o":1.30456,"h":1.3051,"l":1.30454,"c":1.30502},
{"t":"2019-04-16T18:25Z","o":1.30502,"h":1.30519,"l":1.30497,"c":1.30511},
{"t":"2019-04-16T18:30Z","o":1.30511,"h":1.30526,"l":1.30505,"c":1.30519},
{"t":"2019-04-16T18:35Z","o":1.30519,"h":1.30521,"l":1.30456,"c":1.30481},
{"t":"2019-04-16T18:40Z","o":1.30481,"h":1.30482,"l":1.30455,"c":1.30456},
{"t":"2019-04-16T18:45Z","o":1.30456,"h":1.30472,"l":1.30438,"c":1.30469},
{"t":"2019-04-16T18:50Z","o":1.30469,"h":1.30474,"l":1.30459,"c":1.30471},
{"t":"2019-04-16T18:55Z","o":1.30471,"h":1.30497,"l":1.30468,"c":1.30474},
{"t":"2019-04-16T19:00Z","o":1.30474,"h":1.30495,"l":1.30472,"c":1.30479},
{"t":"2019-04-16T19:05Z","o":1.30479,"h":1.30481,"l":1.30453,"c":1.30454},
{"t":"2019-04-16T19:10Z","o":1.30454,"h":1.30456,"l":1.30429,"c":1.30445},
{"t":"2019-04-16T19:15Z","o":1.30445,"h":1.30461,"l":1.30444,"c":1.3046},
{"t":"2019-04-16T19:20Z","o":1.3046,"h":1.30488,"l":1.30458,"c":1.30471},
{"t":"2019-04-16T19:25Z","o":1.30471,"h":1.30477,"l":1.30462,"c":1.30468}
]},
"layer":[
{"data":{"values":[{"t":"2019-04-16T13:30Z","t2":"2019-04-16T17:15Z","p":1.30823,"p2":1.30748}]},
 "mark":{"type":"rect","fill":"#aaaaaa"},
 "encoding":{"x":{"field":"t","type":"temporal","scale":{"type":"utc","domain":[1555317252000,1555457332000]},"axis":null},"x2":{"field":"t2"},
  "y":{"field":"p","type":"quantitative","scale":{"domain":[1.304054,1.312318],"zero":false,"nice":false},"axis":null},"y2":{"field":"p2"}}},
{"data":{"values":[{"t":"2019-04-16T00:00Z"}]},
 "mark":{"type":"rule","stroke":"#3c3c3c","strokeDash":[2,2],"strokeWidth":1},
 "encoding":{"x":{"field":"t","type":"temporal","scale":{"type":"utc","domain":[1555317252000,1555457332000]},"axis":null}}},
{"data":{"name":"k"},
 "mark":{"type":"rule","stroke":"#000000","strokeWidth":1,"clip":true},
 "encoding":{
  "x":{"field":"t","type":"temporal","scale":{"type":"utc","domain":[1555317252000,1555457332000]},
   "axis":{"orient":"bottom","values":[1555317300000,1555322100000,1555326900000,1555331700000,1555336500000,1555341300000,1555346100000,1555350900000,1555355700000,1555360500000,1555365300000,1555370100000,1555374900000,1555379700000,1555384500000,1555389300000,1555394100000,1555398900000,1555403700000,1555408500000,1555413300000,1555418100000,1555422900000,1555427700000,1555432500000,1555437300000,1555442100000],
    "labelExpr":"datum.index == 0 ? utcFormat(datum.value, '%d %b %Y') : utcFormat(datum.value, '%d %b %H:%M')",
    "labelAlign":"left","labelDx":1,"labelPadding":1,"tickSize":3,"tickColor":"#000000","labelColor":"#000000","labelFont":"Liberation Sans","labelFontSize":9,"domain":false,"grid":false,"title":null,"labelOverlap":false,"labelFlush":false}},
  "y":{"field":"l","type":"quantitative","scale":{"domain":[1.304054,1.312318],"zero":false,"nice":false},
   "axis":{"orient":"right","values":[1.30415,1.3045,1.30485,1.3052,1.30555,1.3059,1.30625,1.3066,1.30695,1.3073,1.30765,1.308,1.30835,1.3087,1.30905,1.3094,1.30975,1.3101,1.31045,1.3108,1.31115,1.3115,1.31185,1.3122],
    "format":".5f","tickSize":4,"labelPadding":2,"tickColor":"#000000","labelColor":"#000000","labelFont":"Liberation Sans","labelFontSize":9,"domain":false,"grid":false,"title":null,"labelOverlap":false,"labelFlush":false}},
  "y2":{"field":"h"}}},
{"data":{"name":"k"},
 "mark":{"type":"bar","size":2.6,"stroke":"#000000","strokeWidth":1,"clip":true},
 "encoding":{
  "x":{"field":"t","type":"temporal","scale":{"type":"utc","domain":[1555317252000,1555457332000]},"axis":null},
  "y":{"field":"o","type":"quantitative","scale":{"domain":[1.304054,1.312318],"zero":false,"nice":false},"axis":null},
  "y2":{"field":"c"},
  "fill":{"condition":{"test":"datum.c >= datum.o","value":"#ffffff"},"value":"#000000"}}},
{"data":{"values":[{"p":1.31}]},
 "mark":{"type":"rule","stroke":"#000000","strokeWidth":2},
 "encoding":{"y":{"field":"p","type":"quantitative","scale":{"domain":[1.304054,1.312318],"zero":false,"nice":false},"axis":null}}},
{"data":{"values":[{"p":1.30498}]},
 "mark":{"type":"rule","stroke":"#3a3a3a","strokeWidth":1},
 "encoding":{"y":{"field":"p","type":"quantitative","scale":{"domain":[1.304054,1.312318],"zero":false,"nice":false},"axis":null}}},
{"data":{"values":[{"t":"2019-04-15T09:45Z","t2":"2019-04-16T23:28Z","p":1.30785}]},
 "mark":{"type":"rule","stroke":"#dc143c","strokeWidth":1.6},
 "encoding":{"x":{"field":"t","type":"temporal","scale":{"type":"utc","domain":[1555317252000,1555457332000]},"axis":null},"x2":{"field":"t2"},
  "y":{"field":"p","type":"quantitative","scale":{"domain":[1.304054,1.312318],"zero":false,"nice":false},"axis":null}}},
{"data":{"values":[{"t":"2019-04-15T17:45Z","p":1.31128},{"t":"2019-04-15T20:50Z","p":1.30973}]},
 "mark":{"type":"line","stroke":"#ff0000","strokeWidth":1,"strokeDash":[2,3]},
 "encoding":{"x":{"field":"t","type":"temporal","scale":{"type":"utc","domain":[1555317252000,1555457332000]},"axis":null},
  "y":{"field":"p","type":"quantitative","scale":{"domain":[1.304054,1.312318],"zero":false,"nice":false},"axis":null}}},
{"data":{"values":[{"t":"2019-04-15T17:45Z","p":1.31128}]},
 "mark":{"type":"point","shape":"triangle-right","filled":true,"fill":"#ff0000","stroke":"#ffffff","strokeWidth":0.8,"size":45,"opacity":1},
 "encoding":{"x":{"field":"t","type":"temporal","scale":{"type":"utc","domain":[1555317252000,1555457332000]},"axis":null},
  "y":{"field":"p","type":"quantitative","scale":{"domain":[1.304054,1.312318],"zero":false,"nice":false},"axis":null}}},
{"data":{"values":[{"t":"2019-04-15T20:50Z","p":1.30973}]},
 "mark":{"type":"point","shape":"square","filled":true,"fill":"#daa520","size":14,"opacity":1},
 "encoding":{"x":{"field":"t","type":"temporal","scale":{"type":"utc","domain":[1555317252000,1555457332000]},"axis":null},
  "y":{"field":"p","type":"quantitative","scale":{"domain":[1.304054,1.312318],"zero":false,"nice":false},"axis":null}}},
{"data":{"values":[{"t":"2019-04-16T23:31Z","t2":"2019-04-17T00:22Z","p":1.304805,"p2":1.304601}]},
 "mark":{"type":"rect","fill":"#000000","clip":false},
 "encoding":{"x":{"field":"t","type":"temporal","scale":{"type":"utc","domain":[1555317252000,1555457332000]},"axis":null},"x2":{"field":"t2"},
  "y":{"field":"p","type":"quantitative","scale":{"domain":[1.304054,1.312318],"zero":false,"nice":false},"axis":null},"y2":{"field":"p2"}}},
{"data":{"values":[{"t":"2019-04-16T23:33Z","p":1.304751,"txt":"1.30477"},{"t":"2019-04-16T23:33Z","p":1.304655,"txt":"1.30468"}]},
 "mark":{"type":"text","align":"left","baseline":"middle","color":"#ffffff","font":"Liberation Sans","fontSize":9,"clip":false},
 "encoding":{"x":{"field":"t","type":"temporal","scale":{"type":"utc","domain":[1555317252000,1555457332000]},"axis":null},
  "y":{"field":"p","type":"quantitative","scale":{"domain":[1.304054,1.312318],"zero":false,"nice":false},"axis":null},"text":{"field":"txt"}}},
{"data":{"values":[{"t":"2019-04-15T08:43Z","p":1.312232}]},
 "mark":{"type":"point","shape":"triangle-down","filled":true,"fill":"#000000","size":18,"opacity":1},
 "encoding":{"x":{"field":"t","type":"temporal","scale":{"type":"utc","domain":[1555317252000,1555457332000]},"axis":null},
  "y":{"field":"p","type":"quantitative","scale":{"domain":[1.304054,1.312318],"zero":false,"nice":false},"axis":null}}},
{"data":{"values":[{"t":"2019-04-15T08:54Z","p":1.312227,"txt":"GBPUSD,M5  1.30471 1.30477 1.30462 1.30468"}]},
 "mark":{"type":"text","align":"left","baseline":"middle","color":"#000000","font":"Liberation Sans","fontSize":9},
 "encoding":{"x":{"field":"t","type":"temporal","scale":{"type":"utc","domain":[1555317252000,1555457332000]},"axis":null},
  "y":{"field":"p","type":"quantitative","scale":{"domain":[1.304054,1.312318],"zero":false,"nice":false},"axis":null},"text":{"field":"txt"}}},
{"data":{"values":[{"t":"2019-04-15T08:36Z","p":1.30414,"txt":"00:03:15"}]},
 "mark":{"type":"text","align":"left","baseline":"alphabetic","color":"#000000","font":"Liberation Sans","fontSize":23},
 "encoding":{"x":{"field":"t","type":"temporal","scale":{"type":"utc","domain":[1555317252000,1555457332000]},"axis":null},
  "y":{"field":"p","type":"quantitative","scale":{"domain":[1.304054,1.312318],"zero":false,"nice":false},"axis":null},"text":{"field":"txt"}}},
{"data":{"values":[{"t":"2019-04-16T23:33Z","p":1.304229,"txt":"Spread: 0.9 pips"}]},
 "mark":{"type":"text","align":"right","baseline":"alphabetic","color":"#000000","font":"Liberation Sans","fontSize":18},
 "encoding":{"x":{"field":"t","type":"temporal","scale":{"type":"utc","domain":[1555317252000,1555457332000]},"axis":null},
  "y":{"field":"p","type":"quantitative","scale":{"domain":[1.304054,1.312318],"zero":false,"nice":false},"axis":null},"text":{"field":"txt"}}}
]
}
